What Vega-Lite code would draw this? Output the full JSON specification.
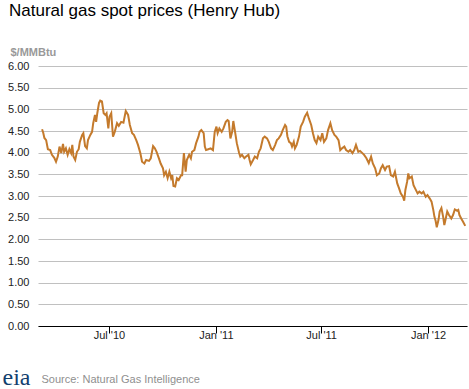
{
"$schema": "https://vega.github.io/schema/vega-lite/v6.json",
"width": 429, "height": 260,
"autosize": {"type": "none"},
"padding": {"left": 38, "top": 66, "right": 2, "bottom": 63},
"background": "white",
"config": {"view": {"stroke": null}, "font": "Liberation Sans"},
"title": {"text": "Natural gas spot prices (Henry Hub)", "anchor": "start", "frame": "group", "dx": -29, "dy": -22, "fontSize": 17, "fontWeight": "normal", "color": "#000000", "font": "Liberation Sans"},
"data": {"values": [
{"date":"2010-03-08","price":4.54},{"date":"2010-03-10","price":4.46},{"date":"2010-03-12","price":4.34},{"date":"2010-03-15","price":4.29},{"date":"2010-03-18","price":4.08},{"date":"2010-03-22","price":4.06},{"date":"2010-03-25","price":3.95},{"date":"2010-03-29","price":3.88},{"date":"2010-04-01","price":3.79},{"date":"2010-04-04","price":3.91},{"date":"2010-04-07","price":4.14},{"date":"2010-04-10","price":3.99},{"date":"2010-04-13","price":4.20},{"date":"2010-04-15","price":4.02},{"date":"2010-04-18","price":4.10},{"date":"2010-04-21","price":3.95},{"date":"2010-04-24","price":4.08},{"date":"2010-04-27","price":3.99},{"date":"2010-04-29","price":4.18},{"date":"2010-05-01","price":3.91},{"date":"2010-05-04","price":3.83},{"date":"2010-05-07","price":4.02},{"date":"2010-05-10","price":4.08},{"date":"2010-05-12","price":4.25},{"date":"2010-05-16","price":4.41},{"date":"2010-05-18","price":4.45},{"date":"2010-05-21","price":4.15},{"date":"2010-05-24","price":4.10},{"date":"2010-05-26","price":4.29},{"date":"2010-05-30","price":4.41},{"date":"2010-06-02","price":4.48},{"date":"2010-06-04","price":4.68},{"date":"2010-06-07","price":4.87},{"date":"2010-06-09","price":4.71},{"date":"2010-06-11","price":4.91},{"date":"2010-06-14","price":5.15},{"date":"2010-06-16","price":5.20},{"date":"2010-06-19","price":5.18},{"date":"2010-06-22","price":4.91},{"date":"2010-06-25","price":4.87},{"date":"2010-06-27","price":4.91},{"date":"2010-06-30","price":4.56},{"date":"2010-07-02","price":4.83},{"date":"2010-07-05","price":4.91},{"date":"2010-07-08","price":4.37},{"date":"2010-07-11","price":4.48},{"date":"2010-07-15","price":4.68},{"date":"2010-07-18","price":4.62},{"date":"2010-07-22","price":4.71},{"date":"2010-07-26","price":4.69},{"date":"2010-07-30","price":4.96},{"date":"2010-08-03","price":4.87},{"date":"2010-08-06","price":4.64},{"date":"2010-08-10","price":4.45},{"date":"2010-08-13","price":4.41},{"date":"2010-08-17","price":4.29},{"date":"2010-08-20","price":4.18},{"date":"2010-08-24","price":3.99},{"date":"2010-08-27","price":3.79},{"date":"2010-08-31","price":3.75},{"date":"2010-09-03","price":3.83},{"date":"2010-09-08","price":3.81},{"date":"2010-09-11","price":3.87},{"date":"2010-09-15","price":4.15},{"date":"2010-09-18","price":4.10},{"date":"2010-09-21","price":4.02},{"date":"2010-09-25","price":3.87},{"date":"2010-09-28","price":3.75},{"date":"2010-10-02","price":3.64},{"date":"2010-10-04","price":3.48},{"date":"2010-10-07","price":3.56},{"date":"2010-10-10","price":3.41},{"date":"2010-10-13","price":3.56},{"date":"2010-10-16","price":3.41},{"date":"2010-10-18","price":3.48},{"date":"2010-10-20","price":3.23},{"date":"2010-10-23","price":3.22},{"date":"2010-10-26","price":3.41},{"date":"2010-10-29","price":3.37},{"date":"2010-11-02","price":3.48},{"date":"2010-11-04","price":3.48},{"date":"2010-11-07","price":3.99},{"date":"2010-11-10","price":3.56},{"date":"2010-11-12","price":3.83},{"date":"2010-11-16","price":3.95},{"date":"2010-11-19","price":3.87},{"date":"2010-11-21","price":4.02},{"date":"2010-11-25","price":4.06},{"date":"2010-11-28","price":4.22},{"date":"2010-12-02","price":4.37},{"date":"2010-12-04","price":4.48},{"date":"2010-12-07","price":4.52},{"date":"2010-12-11","price":4.45},{"date":"2010-12-13","price":4.14},{"date":"2010-12-15","price":4.06},{"date":"2010-12-19","price":4.08},{"date":"2010-12-23","price":4.10},{"date":"2010-12-27","price":4.06},{"date":"2010-12-30","price":4.48},{"date":"2011-01-02","price":4.60},{"date":"2011-01-04","price":4.45},{"date":"2011-01-07","price":4.56},{"date":"2011-01-11","price":4.48},{"date":"2011-01-14","price":4.56},{"date":"2011-01-18","price":4.71},{"date":"2011-01-21","price":4.75},{"date":"2011-01-23","price":4.73},{"date":"2011-01-26","price":4.33},{"date":"2011-01-29","price":4.48},{"date":"2011-01-31","price":4.73},{"date":"2011-02-03","price":4.48},{"date":"2011-02-06","price":4.22},{"date":"2011-02-10","price":3.99},{"date":"2011-02-12","price":3.91},{"date":"2011-02-15","price":3.95},{"date":"2011-02-19","price":3.87},{"date":"2011-02-22","price":3.91},{"date":"2011-02-26","price":3.95},{"date":"2011-02-28","price":3.83},{"date":"2011-03-02","price":3.73},{"date":"2011-03-06","price":3.83},{"date":"2011-03-09","price":3.91},{"date":"2011-03-13","price":3.87},{"date":"2011-03-16","price":4.02},{"date":"2011-03-19","price":4.10},{"date":"2011-03-23","price":4.33},{"date":"2011-03-26","price":4.37},{"date":"2011-03-30","price":4.33},{"date":"2011-04-02","price":4.25},{"date":"2011-04-06","price":4.10},{"date":"2011-04-09","price":4.06},{"date":"2011-04-13","price":4.18},{"date":"2011-04-16","price":4.29},{"date":"2011-04-19","price":4.33},{"date":"2011-04-23","price":4.41},{"date":"2011-04-26","price":4.52},{"date":"2011-04-30","price":4.64},{"date":"2011-05-02","price":4.60},{"date":"2011-05-04","price":4.38},{"date":"2011-05-07","price":4.25},{"date":"2011-05-10","price":4.22},{"date":"2011-05-12","price":4.14},{"date":"2011-05-15","price":4.25},{"date":"2011-05-17","price":4.10},{"date":"2011-05-20","price":4.18},{"date":"2011-05-24","price":4.37},{"date":"2011-05-27","price":4.60},{"date":"2011-05-31","price":4.71},{"date":"2011-06-03","price":4.83},{"date":"2011-06-07","price":4.92},{"date":"2011-06-10","price":4.79},{"date":"2011-06-14","price":4.64},{"date":"2011-06-17","price":4.45},{"date":"2011-06-20","price":4.29},{"date":"2011-06-23","price":4.22},{"date":"2011-06-26","price":4.37},{"date":"2011-06-30","price":4.29},{"date":"2011-07-03","price":4.45},{"date":"2011-07-06","price":4.25},{"date":"2011-07-10","price":4.33},{"date":"2011-07-13","price":4.52},{"date":"2011-07-17","price":4.68},{"date":"2011-07-20","price":4.52},{"date":"2011-07-24","price":4.41},{"date":"2011-07-27","price":4.37},{"date":"2011-07-31","price":4.29},{"date":"2011-08-03","price":4.06},{"date":"2011-08-06","price":4.10},{"date":"2011-08-10","price":4.14},{"date":"2011-08-13","price":4.06},{"date":"2011-08-17","price":4.02},{"date":"2011-08-20","price":4.06},{"date":"2011-08-24","price":3.99},{"date":"2011-08-27","price":4.06},{"date":"2011-08-30","price":4.18},{"date":"2011-09-03","price":4.02},{"date":"2011-09-06","price":4.04},{"date":"2011-09-10","price":3.99},{"date":"2011-09-13","price":3.95},{"date":"2011-09-17","price":3.87},{"date":"2011-09-21","price":3.76},{"date":"2011-09-25","price":3.91},{"date":"2011-09-28","price":3.75},{"date":"2011-10-02","price":3.64},{"date":"2011-10-05","price":3.48},{"date":"2011-10-09","price":3.52},{"date":"2011-10-12","price":3.64},{"date":"2011-10-15","price":3.71},{"date":"2011-10-19","price":3.60},{"date":"2011-10-22","price":3.68},{"date":"2011-10-26","price":3.69},{"date":"2011-10-29","price":3.48},{"date":"2011-11-02","price":3.45},{"date":"2011-11-05","price":3.56},{"date":"2011-11-09","price":3.29},{"date":"2011-11-12","price":3.18},{"date":"2011-11-15","price":3.06},{"date":"2011-11-19","price":2.98},{"date":"2011-11-21","price":2.89},{"date":"2011-11-23","price":3.14},{"date":"2011-11-26","price":3.33},{"date":"2011-11-28","price":3.52},{"date":"2011-11-30","price":3.41},{"date":"2011-12-04","price":3.45},{"date":"2011-12-07","price":3.25},{"date":"2011-12-11","price":3.14},{"date":"2011-12-14","price":3.06},{"date":"2011-12-17","price":3.10},{"date":"2011-12-21","price":3.06},{"date":"2011-12-24","price":3.10},{"date":"2011-12-28","price":2.98},{"date":"2011-12-31","price":3.02},{"date":"2012-01-04","price":2.94},{"date":"2012-01-07","price":2.87},{"date":"2012-01-10","price":2.68},{"date":"2012-01-12","price":2.52},{"date":"2012-01-14","price":2.43},{"date":"2012-01-16","price":2.28},{"date":"2012-01-19","price":2.45},{"date":"2012-01-21","price":2.64},{"date":"2012-01-24","price":2.72},{"date":"2012-01-27","price":2.52},{"date":"2012-01-29","price":2.33},{"date":"2012-01-31","price":2.45},{"date":"2012-02-03","price":2.64},{"date":"2012-02-06","price":2.56},{"date":"2012-02-10","price":2.48},{"date":"2012-02-13","price":2.56},{"date":"2012-02-16","price":2.69},{"date":"2012-02-20","price":2.66},{"date":"2012-02-22","price":2.68},{"date":"2012-02-24","price":2.56},{"date":"2012-02-27","price":2.48},{"date":"2012-03-01","price":2.41},{"date":"2012-03-05","price":2.31}
]},
"layer": [
{"mark": {"type": "line", "color": "#c47a2c", "strokeWidth": 2},
 "encoding": {
  "x": {"field": "date", "type": "temporal",
   "scale": {"type": "utc", "domain": [{"year": 2010, "month": 3, "date": 1, "utc": true}, {"year": 2012, "month": 3, "date": 8, "utc": true}]},
   "axis": {"values": [{"year": 2010, "month": 7, "date": 1, "utc": true}, {"year": 2011, "month": 1, "date": 1, "utc": true}, {"year": 2011, "month": 7, "date": 1, "utc": true}, {"year": 2012, "month": 1, "date": 1, "utc": true}],
    "labelExpr": "utcFormat(datum.value, \"%b '%y\")",
    "grid": false, "domainColor": "#000000", "domainWidth": 1, "tickColor": "#000000", "tickSize": 7, "labelPadding": -4,
    "labelFontSize": 11, "labelColor": "#222222", "labelFont": "Liberation Sans",
    "title": "Source: Natural Gas Intelligence", "titleX": 3, "titleY": 56, "titleAnchor": null, "titleAlign": "left", "titleBaseline": "alphabetic",
    "titleFontSize": 11, "titleFontWeight": "normal", "titleColor": "#8f8f8f", "titleFont": "Liberation Sans"}},
  "y": {"field": "price", "type": "quantitative",
   "scale": {"domain": [0, 6], "nice": false},
   "axis": {"values": [0, 0.5, 1, 1.5, 2, 2.5, 3, 3.5, 4, 4.5, 5, 5.5, 6], "format": ".2f",
    "grid": true, "gridColor": "#c0c0c0", "gridWidth": 1, "domain": false, "ticks": false, "labelPadding": 9,
    "labelFontSize": 11, "labelColor": "#222222", "labelFont": "Liberation Sans",
    "title": "$/MMBtu", "titleAngle": 0, "titleX": -28, "titleY": -11, "titleAnchor": null, "titleAlign": "left", "titleBaseline": "alphabetic",
    "titleFontSize": 11, "titleFontWeight": "bold", "titleColor": "#999999", "titleFont": "Liberation Sans"}}
 }},
{"mark": {"type": "line", "opacity": 0},
 "encoding": {
  "x": {"field": "date", "type": "temporal"},
  "y": {"field": "price", "type": "quantitative", "scale": {"domain": [0, 6], "nice": false},
   "axis": {"orient": "right", "labels": false, "ticks": false, "domain": false, "grid": false,
    "title": "eia", "titleAngle": 0, "titleX": -465, "titleY": 318, "titleAnchor": null, "titleAlign": "left", "titleBaseline": "alphabetic",
    "titleFont": "Liberation Serif", "titleFontSize": 24, "titleFontWeight": "normal", "titleColor": "#123f6e"}}
 }}
],
"resolve": {"scale": {"y": "independent"}}
}
